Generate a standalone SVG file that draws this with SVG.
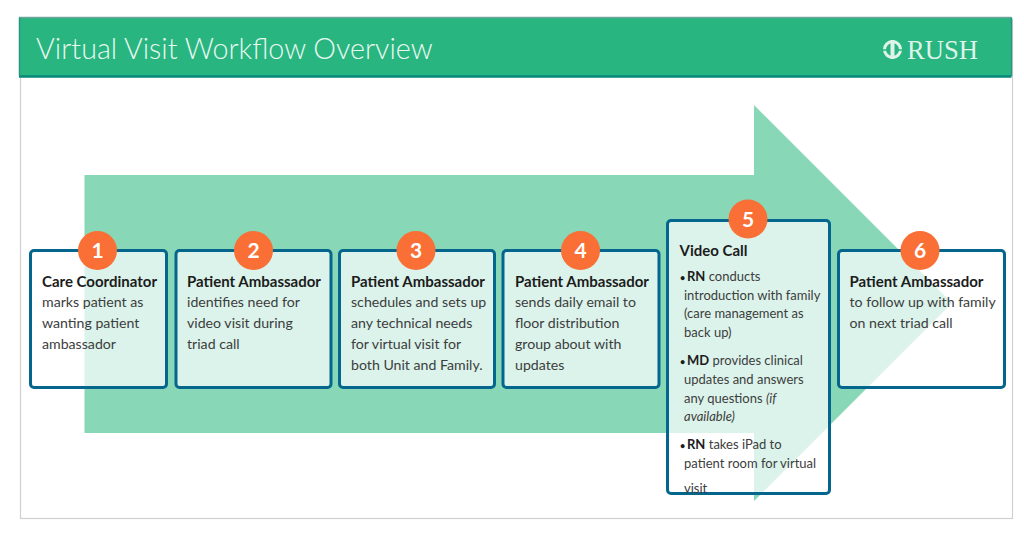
<svg xmlns="http://www.w3.org/2000/svg" width="1024" height="534" viewBox="0 0 1024 534">
<style>
.card{fill:#fff;fill-opacity:.7;stroke:#05668d;stroke-width:3}
.badge{fill:#f96f36}
.num{font:700 21px Lato,sans-serif;fill:#fff;text-anchor:middle}
.h{font:700 15px Lato,sans-serif;fill:#1c1c1c}
.t{font:400 14.15px Lato,sans-serif;fill:#3d3d3d}
.s{font:400 13px Lato,sans-serif;fill:#3d3d3d}
.s tspan.b{font-weight:700;fill:#1c1c1c}
.s tspan.d{font-weight:700;font-size:9px;fill:#1c1c1c}
.s tspan.i{font-style:italic}
</style>
<rect x="20.500" y="20" width="992" height="498.500" fill="#fff" stroke="#d0d0d0" stroke-width="1.200"/>
<g id="header">
<rect x="19" y="17.500" width="992.500" height="59" fill="#28b580"/>
<path d="M19 17.500H1011.500" stroke="#6fa59a" stroke-width="1.500" fill="none"/>
<path d="M19 76.500H1011.500" stroke="#06897a" stroke-width="2.500" fill="none"/>
<path d="M19.500 17.500V76M1011.500 17.500V76" stroke="#2c9383" stroke-width="1.500" fill="none"/>
<text x="36" y="59" style="font:300 28.700px Lato,sans-serif;fill:#e8f8f1">Virtual Visit Workflow Overview</text>
<g id="logo">
<circle cx="892.500" cy="49.500" r="8" fill="none" stroke="#dff3ea" stroke-width="3"/>
<rect x="890.500" y="40" width="4" height="19" fill="#dff3ea"/>
<path d="M883 50H889M896 50H902" stroke="#28b580" stroke-width="1.500"/>
<text x="907" y="59" style="font:400 28px 'Liberation Serif',serif;fill:#dff3ea" textLength="71" lengthAdjust="spacingAndGlyphs">RUSH</text>
</g>
</g>
<path id="big-arrow" d="M84.500 175H754V105L952 303L754 501V433H84.500Z" fill="#88d8b7"/>
<g id="node-1">
<rect class="card" x="30.500" y="250.500" width="136" height="137" rx="3.500"/>
<circle class="badge" cx="97.500" cy="250.500" r="19.500"/><text class="num" x="97.500" y="258">1</text>
<text class="h" x="42" y="287">Care Coordinator</text>
<text class="t" x="42" y="307">marks patient as</text><text class="t" x="42" y="328">wanting patient</text><text class="t" x="42" y="348.500">ambassador</text>
</g>
<g id="node-2">
<rect class="card" x="176" y="250.500" width="155" height="137" rx="3.500"/>
<circle class="badge" cx="253.500" cy="250.500" r="19.500"/><text class="num" x="253.500" y="258">2</text>
<text class="h" x="187" y="287">Patient Ambassador</text>
<text class="t" x="187" y="307">identifies need for</text><text class="t" x="187" y="328">video visit during</text><text class="t" x="187" y="348.500">triad call</text>
</g>
<g id="node-3">
<rect class="card" x="339.500" y="250.500" width="155" height="137" rx="3.500"/>
<circle class="badge" cx="416" cy="250.500" r="19.500"/><text class="num" x="416" y="258">3</text>
<text class="h" x="351" y="287">Patient Ambassador</text>
<text class="t" x="351" y="307">schedules and sets up</text><text class="t" x="351" y="328">any technical needs</text><text class="t" x="351" y="348.500">for virtual visit for</text><text class="t" x="351" y="369.500">both Unit and Family.</text>
</g>
<g id="node-4">
<rect class="card" x="503" y="250.500" width="156" height="137" rx="3.500"/>
<circle class="badge" cx="580.500" cy="250.500" r="19.500"/><text class="num" x="580.500" y="258">4</text>
<text class="h" x="515" y="287">Patient Ambassador</text>
<text class="t" x="515" y="307">sends daily email to</text><text class="t" x="515" y="328">floor distribution</text><text class="t" x="515" y="348.500">group about with</text><text class="t" x="515" y="369.500">updates</text>
</g>
<g id="node-5">
<rect class="card" x="667.500" y="220.500" width="162" height="273" rx="3.500"/>
<circle class="badge" cx="748" cy="219" r="19.500"/><text class="num" x="748" y="226.500">5</text>
<text class="h" x="679.500" y="255.500">Video Call</text>
<text class="s" x="680" y="281"><tspan class="d">•</tspan><tspan class="b" x="687">RN</tspan> conducts</text>
<text class="s" x="684" y="299.500">introduction with family</text>
<text class="s" x="684" y="318">(care management as</text>
<text class="s" x="684" y="336.500">back up)</text>
<text class="s" x="680" y="364.500"><tspan class="d">•</tspan><tspan class="b" x="687">MD</tspan> provides clinical</text>
<text class="s" x="684" y="384">updates and answers</text>
<text class="s" x="684" y="402.500">any questions <tspan class="i">(if</tspan></text>
<text class="s" x="684" y="420.500"><tspan class="i">available)</tspan></text>
<text class="s" x="680" y="449"><tspan class="d">•</tspan><tspan class="b" x="687">RN</tspan> takes iPad to</text>
<text class="s" x="684" y="468">patient room for virtual</text>
<text class="s" x="684" y="493">visit</text>
</g>
<g id="node-6">
<rect class="card" x="838.500" y="250.500" width="166" height="137" rx="3.500"/>
<circle class="badge" cx="920" cy="250.500" r="19.500"/><text class="num" x="920" y="258">6</text>
<text class="h" x="849.500" y="287">Patient Ambassador</text>
<text class="t" x="849.500" y="307">to follow up with family</text><text class="t" x="849.500" y="328">on next triad call</text>
</g>
<g id="connectors"></g>
</svg>
